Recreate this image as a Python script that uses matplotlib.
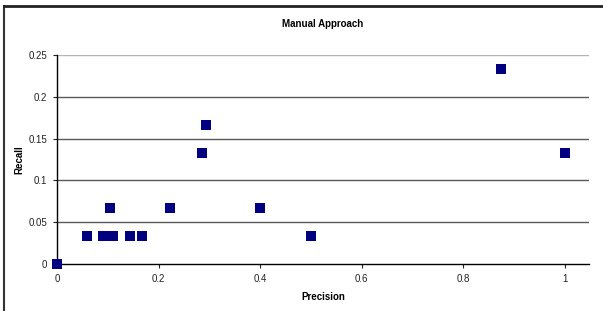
import matplotlib
matplotlib.use("Agg")
import matplotlib.pyplot as plt
from matplotlib.lines import Line2D

plt.rcParams['font.family'] = ['Liberation Sans', 'DejaVu Sans']

# precision / recall pairs
precision = [0.0, 0.06, 0.0909, 0.111, 0.143, 0.167, 0.105, 0.222,
             0.286, 0.294, 0.4, 0.5, 0.875, 1.0]
recall = [0.0, 0.0333, 0.0333, 0.0333, 0.0333, 0.0333, 0.0667, 0.0667,
          0.1333, 0.1667, 0.0667, 0.0333, 0.2333, 0.1333]

yticks = [0, 0.05, 0.1, 0.15, 0.2, 0.25]
xticks = [0, 0.2, 0.4, 0.6, 0.8, 1]

fig = plt.figure(figsize=(6.03, 3.11), dpi=100)
ax = fig.add_axes([57/603, 47/311, 532/603, 209/311])

# horizontal grid, excel style
for yv in yticks[1:]:
    col = '#b4b4b4' if yv == 0.25 else '#5a5a5a'
    ax.axhline(yv, color=col, lw=1.0, zorder=1)

ax.scatter(precision, recall, marker='s', s=56, color='#000080',
           zorder=3, clip_on=False, linewidths=0)

ax.set_xlim(0, 1.048)
ax.set_ylim(0, 0.25)
ax.set_xticks(xticks)
ax.set_yticks(yticks)
ax.set_xticklabels(['0', '0.2', '0.4', '0.6', '0.8', '1'])
ax.set_yticklabels(['0', '0.05', '0.1', '0.15', '0.2', '0.25'])
ax.tick_params(labelsize=7, length=3, width=0.8, pad=4, colors='#222222')

for s in ['top', 'right']:
    ax.spines[s].set_visible(False)
for s in ['left', 'bottom']:
    ax.spines[s].set_color('black')
    ax.spines[s].set_linewidth(1.0)

ax.set_title('Manual Approach', fontsize=7, fontweight='bold', pad=20)
ax.set_xlabel('Precision', fontsize=7, fontweight='bold', labelpad=6)
ax.set_ylabel('Recall', fontsize=7, fontweight='bold', labelpad=3)

# chart frame (screenshot shows left and top edges only)
fig.add_artist(Line2D([4/603, 4/603], [0, 1 - 6/311], transform=fig.transFigure,
                      color='#333333', lw=1.5))
fig.add_artist(Line2D([4/603, 1], [1 - 6/311, 1 - 6/311], transform=fig.transFigure,
                      color='#222222', lw=2))

fig.savefig('out.png', dpi=100)
